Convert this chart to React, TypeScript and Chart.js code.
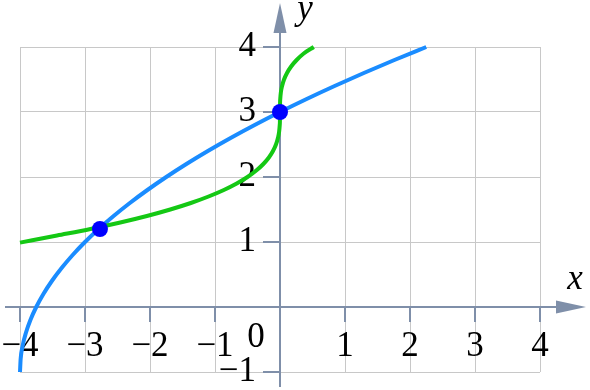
import React, { useEffect, useRef } from "react";
import { Chart, registerables } from "chart.js";

Chart.register(...registerables);

// Blue curve samples
const blueX = [-4, -3.99, -3.96, -3.91, -3.84, -3.75, -3.64, -3.51, -3.36, -3.19, -3, -2.79, -2.56, -2.31, -2.04, -1.75, -1.44, -1.11, -0.76, -0.39, 0, 0.41, 0.84, 1.29, 1.76, 2.25];
const blueY = [-1, -0.8, -0.6, -0.4, -0.2, 0, 0.2, 0.4, 0.6, 0.8, 1, 1.2, 1.4, 1.6, 1.8, 2, 2.2, 2.4, 2.6, 2.8, 3, 3.2, 3.4, 3.6, 3.8, 4];

// Green curve samples
const greenX = [-4, -3.43, -2.916, -2.457, -2.048, -1.688, -1.372, -1.099, -0.864, -0.666, -0.5, -0.365, -0.256, -0.171, -0.108, -0.062, -0.032, -0.013, -0.004, -0.0005, 0, 0.0005, 0.004, 0.013, 0.032, 0.062, 0.108, 0.171, 0.256, 0.365, 0.52];
const greenY = [0.99, 1.1, 1.2, 1.3, 1.4, 1.5, 1.6, 1.7, 1.8, 1.9, 2, 2.1, 2.2, 2.3, 2.4, 2.5, 2.6, 2.7, 2.8, 2.9, 3, 3.1, 3.2, 3.3, 3.4, 3.5, 3.6, 3.7, 3.8, 3.9, 4];

// Intersection points
const pointX = [-2.77, 0];
const pointY = [1.2, 3];

// Ticks
const xTicks = [-4, -3, -2, -1, 1, 2, 3, 4];
const xTickLabels = ["\u22124", "\u22123", "\u22122", "\u22121", "1", "2", "3", "4"];
const yTicks = [-1, 1, 2, 3, 4];
const yTickLabels = ["\u22121", "1", "2", "3", "4"];
const originLabel = "0";
const xAxisTitle = "x";
const yAxisTitle = "y";

const AXIS = "#7f8fa9";
const BLUE = "#1a8cff";
const GREEN = "#14c814";
const DOT = "#0000ff";
const FONT = "'Liberation Serif', 'Times New Roman', serif";

const axesPlugin = {
  id: "mathAxes",
  beforeDatasetsDraw(chart: any) {
    const ctx = chart.ctx as CanvasRenderingContext2D;
    const xs = chart.scales.x;
    const ys = chart.scales.y;
    const area = chart.chartArea;
    const x0 = Math.round(xs.getPixelForValue(0));
    const y0 = Math.round(ys.getPixelForValue(0));
    ctx.save();
    ctx.strokeStyle = AXIS;
    ctx.fillStyle = AXIS;
    ctx.lineWidth = 2;
    // x axis line
    ctx.beginPath();
    ctx.moveTo(area.left - 15, y0);
    ctx.lineTo(area.right + 20, y0);
    ctx.stroke();
    // x arrow
    ctx.beginPath();
    ctx.moveTo(area.right + 46, y0);
    ctx.lineTo(area.right + 16, y0 - 6.5);
    ctx.lineTo(area.right + 16, y0 + 6.5);
    ctx.closePath();
    ctx.fill();
    // y axis line
    ctx.beginPath();
    ctx.moveTo(x0, area.bottom + 15);
    ctx.lineTo(x0, area.top - 15);
    ctx.stroke();
    // y arrow
    ctx.beginPath();
    ctx.moveTo(x0, area.top - 44);
    ctx.lineTo(x0 - 6.5, area.top - 14);
    ctx.lineTo(x0 + 6.5, area.top - 14);
    ctx.closePath();
    ctx.fill();
    // x ticks
    for (const v of xTicks) {
      const px = Math.round(xs.getPixelForValue(v));
      ctx.beginPath();
      ctx.moveTo(px, y0);
      ctx.lineTo(px, y0 + 15);
      ctx.stroke();
    }
    // y ticks
    for (const v of yTicks) {
      const py = Math.round(ys.getPixelForValue(v));
      ctx.beginPath();
      ctx.moveTo(x0 - 17, py);
      ctx.lineTo(x0, py);
      ctx.stroke();
    }
    // labels
    ctx.fillStyle = "#000000";
    ctx.font = `35px ${FONT}`;
    ctx.textAlign = "center";
    ctx.textBaseline = "middle";
    xTicks.forEach((v, i) => {
      ctx.fillText(xTickLabels[i], xs.getPixelForValue(v), y0 + 40);
    });
    ctx.textAlign = "right";
    yTicks.forEach((v, i) => {
      ctx.fillText(yTickLabels[i], x0 - 24, ys.getPixelForValue(v));
    });
    ctx.textAlign = "center";
    ctx.fillText(originLabel, x0 - 24, y0 + 31);
    ctx.font = `italic 35px ${FONT}`;
    ctx.fillText(xAxisTitle, area.right + 35, y0 - 27);
    ctx.fillText(yAxisTitle, x0 + 25, area.top - 37);
    ctx.restore();
  },
};

function toPoints(xs: number[], ys: number[]) {
  return xs.map((x, i) => ({ x, y: ys[i] }));
}

export default function App() {
  const ref = useRef<HTMLCanvasElement | null>(null);
  useEffect(() => {
    if (!ref.current) return;
    const chart = new Chart(ref.current, {
      type: "scatter",
      data: {
        datasets: [
          {
            label: "points",
            data: toPoints(pointX, pointY),
            showLine: false,
            pointRadius: 8,
            pointBackgroundColor: DOT,
            pointBorderWidth: 0,
            clip: false,
          } as any,
          {
            label: "green",
            data: toPoints(greenX, greenY),
            showLine: true,
            borderColor: GREEN,
            borderWidth: 4,
            pointRadius: 0,
            cubicInterpolationMode: "monotone",
            clip: false,
          },
          {
            label: "blue",
            data: toPoints(blueX, blueY),
            showLine: true,
            borderColor: BLUE,
            borderWidth: 4,
            pointRadius: 0,
            cubicInterpolationMode: "monotone",
            clip: false,
          },
        ],
      },
      options: {
        responsive: false,
        animation: false,
        devicePixelRatio: 1,
        layout: { padding: { left: 20, right: 50, top: 47, bottom: 18 } },
        plugins: { legend: { display: false }, tooltip: { enabled: false } },
        scales: {
          x: {
            type: "linear",
            min: -4,
            max: 4,
            ticks: { stepSize: 1, display: false },
            grid: { color: "#c8c8c8", lineWidth: 1, drawTicks: false },
            border: { display: false },
            afterFit: (s: any) => { s.height = 0; },
          },
          y: {
            type: "linear",
            min: -1,
            max: 4,
            ticks: { stepSize: 1, display: false },
            grid: { color: "#c8c8c8", lineWidth: 1, drawTicks: false },
            border: { display: false },
            afterFit: (s: any) => { s.width = 0; },
          },
        },
      },
      plugins: [axesPlugin],
    } as any);
    return () => chart.destroy();
  }, []);
  return (
    <div style={{ position: "fixed", left: 0, top: 0, width: 590, height: 390, background: "#fff" }}>
      <canvas ref={ref} width={590} height={390} style={{ width: 590, height: 390, display: "block" }} />
    </div>
  );
}
